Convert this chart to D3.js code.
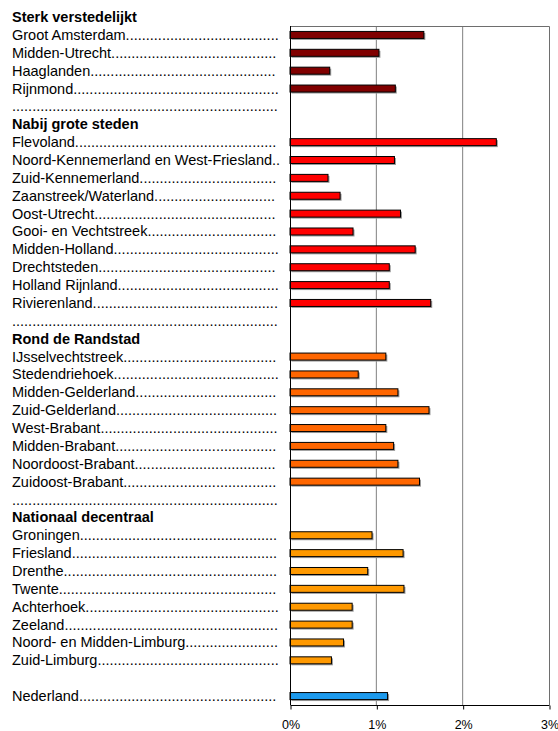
<!DOCTYPE html>
<html>
<head>
<meta charset="utf-8">
<script src="https://cdn.jsdelivr.net/npm/d3@7"></script>
<style>
  html, body { margin: 0; padding: 0; background: #fff; }
  svg { display: block; }
  text { font-family: "Liberation Sans", Arial, sans-serif; fill: #000; }
</style>
</head>
<body>
<svg id="chart" width="558" height="731"></svg>
<script>
// Region groups, their bar colours and values (percent)
const groupTitles = ["Sterk verstedelijkt", "Nabij grote steden", "Rond de Randstad", "Nationaal decentraal"];
const groupColors = ["#800000", "#FF0000", "#FF6600", "#FF9900"];

const sterkNames = ["Groot Amsterdam", "Midden-Utrecht", "Haaglanden", "Rijnmond"];
const sterkValues = [1.55, 1.03, 0.46, 1.22];

const nabijNames = ["Flevoland", "Noord-Kennemerland en West-Friesland", "Zuid-Kennemerland",
  "Zaanstreek/Waterland", "Oost-Utrecht", "Gooi- en Vechtstreek", "Midden-Holland",
  "Drechtsteden", "Holland Rijnland", "Rivierenland"];
const nabijValues = [2.39, 1.21, 0.44, 0.58, 1.28, 0.73, 1.45, 1.15, 1.15, 1.63];

const randNames = ["IJsselvechtstreek", "Stedendriehoek", "Midden-Gelderland", "Zuid-Gelderland",
  "West-Brabant", "Midden-Brabant", "Noordoost-Brabant", "Zuidoost-Brabant"];
const randValues = [1.11, 0.79, 1.25, 1.61, 1.11, 1.20, 1.25, 1.50];

const decentraalNames = ["Groningen", "Friesland", "Drenthe", "Twente", "Achterhoek", "Zeeland",
  "Noord- en Midden-Limburg", "Zuid-Limburg"];
const decentraalValues = [0.95, 1.31, 0.90, 1.32, 0.72, 0.72, 0.62, 0.48];

const nationalName = "Nederland";
const nationalValue = 1.13;
const nationalColor = "#1C9AEE";

const tickValues = [0, 1, 2, 3];

// Build the list of rows: headings, regions, dotted separators
const groups = [
  [sterkNames, sterkValues],
  [nabijNames, nabijValues],
  [randNames, randValues],
  [decentraalNames, decentraalValues]
];
const rows = [];
groups.forEach(([names, values], g) => {
  if (g > 0) rows.push({ type: "sep" });
  rows.push({ type: "head", label: groupTitles[g] });
  names.forEach((n, i) => rows.push({ type: "bar", label: n, value: values[i], color: groupColors[g] }));
});
rows.push({ type: "blank" });
rows.push({ type: "bar", label: nationalName, value: nationalValue, color: nationalColor });

const svg = d3.select("#chart");
const plotLeft = 290, plotRight = 549, plotTop = 26, plotBottom = 705;
const rowH = (plotBottom - plotTop) / (rows.length - 1);

const x = d3.scaleLinear().domain([0, 3]).range([plotLeft, plotRight]);
const y = d3.scaleBand().domain(d3.range(rows.length)).range([plotTop - rowH, plotBottom]);

const fontSize = 14.5;
const labelX = 12;
const labelEnd = 279;

// Gridlines
svg.append("g")
  .selectAll("line")
  .data(tickValues.filter(t => t > 0 && t < 3))
  .join("line")
  .attr("x1", d => x(d)).attr("x2", d => x(d))
  .attr("y1", plotTop).attr("y2", plotBottom)
  .attr("stroke", "#808080").attr("stroke-width", 1);

// Plot frame (top and right)
svg.append("path")
  .attr("d", `M${plotLeft},${plotTop + 0.5}H${plotRight + 0.5}V${plotBottom}`)
  .attr("fill", "none").attr("stroke", "#6e6e6e").attr("stroke-width", 1);

// Bars with a soft drop shadow
const barRows = rows.map((r, i) => ({ ...r, i })).filter(r => r.type === "bar");
const barH = 7;
const barG = svg.append("g");
barG.selectAll("rect.shadow")
  .data(barRows)
  .join("rect")
  .attr("class", "shadow")
  .attr("x", x(0) + 1.5)
  .attr("y", d => y(d.i) + y.bandwidth() / 2 - barH / 2 + 1.5)
  .attr("width", d => x(d.value) - x(0))
  .attr("height", barH)
  .attr("fill", "#9a9a9a");
barG.selectAll("rect.bar")
  .data(barRows)
  .join("rect")
  .attr("class", "bar")
  .attr("x", x(0))
  .attr("y", d => y(d.i) + y.bandwidth() / 2 - barH / 2)
  .attr("width", d => x(d.value) - x(0))
  .attr("height", barH)
  .attr("fill", d => d.color)
  .attr("stroke", "#000")
  .attr("stroke-width", 1);

// Category axis line (left)
svg.append("line")
  .attr("x1", plotLeft + 0.5).attr("x2", plotLeft + 0.5)
  .attr("y1", plotTop).attr("y2", plotBottom)
  .attr("stroke", "#000");

// Value axis (bottom)
const xAxis = d3.axisBottom(x)
  .tickValues(tickValues)
  .tickSize(4)
  .tickPadding(11)
  .tickFormat(d => d + "%");
const axisG = svg.append("g")
  .attr("transform", `translate(0.5,${plotBottom + 0.5})`)
  .call(xAxis);
axisG.select(".domain").attr("stroke", "#000").attr("d", `M${plotLeft},0H${plotRight}`);
axisG.selectAll(".tick line").attr("stroke", "#000");
axisG.selectAll(".tick text")
  .attr("font-family", "Liberation Sans, Arial, sans-serif")
  .attr("font-size", 12.5)
  .attr("fill", "#000");

// Row labels with dot leaders
const labelG = svg.append("g");
const probe = labelG.append("text").attr("font-size", fontSize).text(".");
const dotW = probe.node().getComputedTextLength();
probe.remove();

rows.forEach((r, i) => {
  if (r.type === "blank") return;
  const t = labelG.append("text")
    .attr("x", labelX)
    .attr("y", y(i) + y.bandwidth() / 2 + 5)
    .attr("font-size", fontSize);
  if (r.type === "head") {
    t.attr("font-weight", "bold").text(r.label);
  } else if (r.type === "sep") {
    const n = Math.floor((labelEnd - labelX) / dotW);
    t.text(".".repeat(n));
  } else {
    t.text(r.label);
    const w = t.node().getComputedTextLength();
    const n = Math.max(2, Math.floor((labelEnd - labelX - w) / dotW));
    t.text(r.label + ".".repeat(n));
  }
});
</script>
</body>
</html>
